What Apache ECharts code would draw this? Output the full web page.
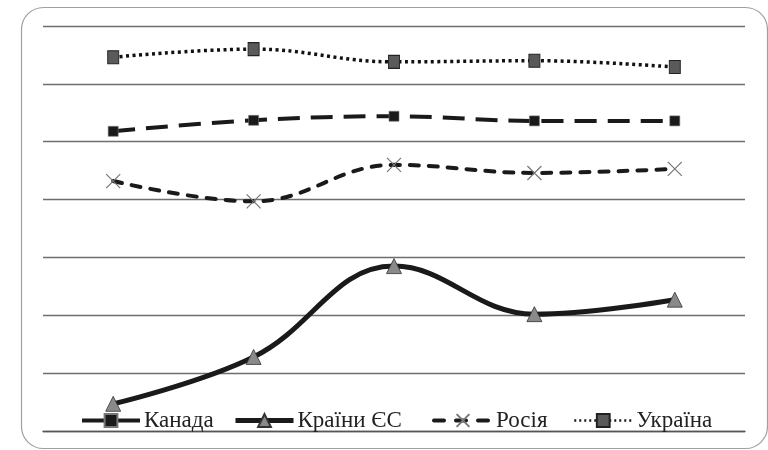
<!DOCTYPE html>
<html><head><meta charset="utf-8">
<script src="https://cdn.jsdelivr.net/npm/echarts@6/dist/echarts.min.js"></script>
<style>html,body{margin:0;padding:0;background:#fff}#c{width:768px;height:450px}</style>
</head><body><div id="c"></div>
<script>
var categories = ['1', '2', '3', '4', '5'];
var seriesNames = ['Канада', 'Країни ЄС', 'Росія', 'Україна'];
var canada = [5.18, 5.37, 5.44, 5.36, 5.36];
var eu = [0.47, 1.28, 2.85, 2.02, 2.27];
var russia = [4.32, 3.97, 4.60, 4.46, 4.53];
var ukraine = [6.46, 6.60, 6.38, 6.40, 6.29];

var chart = echarts.init(document.getElementById('c'));
var font = '"Liberation Serif", "DejaVu Serif", serif';
var legendLefts = [80, 233, 432, 573];
var legendLines = [
  { color: '#1a1a1a', width: 4, type: 'solid' },
  { color: '#1a1a1a', width: 5, type: 'solid' },
  { color: '#1a1a1a', width: 4, type: [10, 12] },
  { color: '#1a1a1a', width: 2.5, type: [2, 3] }
];
var legends = seriesNames.map(function (n, i) {
  return {
    bottom: 18, left: legendLefts[i], padding: 0,
    itemWidth: 58, itemHeight: 16,
    textStyle: { fontFamily: font, fontSize: 23, color: '#222', padding: [0, 0, 0, -1] },
    data: [{ name: n, lineStyle: legendLines[i] }]
  };
});
chart.setOption({
  animation: false,
  backgroundColor: '#fff',
  graphic: [{
    type: 'rect', left: 19, top: 5,
    shape: { width: 746, height: 441, r: 22 },
    style: { fill: 'none', stroke: '#a0a0a0', lineWidth: 1.2 },
    z: -1
  }],
  grid: { left: 43, right: 23, top: 26, bottom: 19 },
  xAxis: {
    type: 'category', data: categories, boundaryGap: true,
    axisLine: { show: true, lineStyle: { color: '#555', width: 1.3 } },
    axisTick: { show: false }, axisLabel: { show: false }
  },
  yAxis: {
    type: 'value', min: 0, max: 7, interval: 1,
    axisLine: { show: false }, axisTick: { show: false }, axisLabel: { show: false },
    splitLine: { lineStyle: { color: '#6e6e6e', width: 1.3 } }
  },
  legend: legends,
  series: [
    {
      name: seriesNames[0], type: 'line', data: canada, smooth: 0.4,
      symbol: 'rect', symbolSize: 10,
      lineStyle: { color: '#1a1a1a', width: 4, type: [22, 11] },
      itemStyle: { color: '#1a1a1a', borderColor: '#777', borderWidth: 0.6 }
    },
    {
      name: seriesNames[1], type: 'line', data: eu, smooth: 0.4,
      symbol: 'triangle', symbolSize: [15, 15],
      lineStyle: { color: '#1a1a1a', width: 5 },
      itemStyle: { color: '#8a8a8a', borderColor: '#333', borderWidth: 0.8 }
    },
    {
      name: seriesNames[2], type: 'line', data: russia, smooth: 0.4,
      symbol: 'path://M0,0 L10,10 M10,0 L0,10', symbolSize: 14,
      lineStyle: { color: '#1a1a1a', width: 4, type: [9, 10], cap: 'round' },
      itemStyle: { color: 'none', borderColor: '#777', borderWidth: 1.2 }
    },
    {
      name: seriesNames[3], type: 'line', data: ukraine, smooth: 0.4,
      symbol: 'rect', symbolSize: [11, 13],
      lineStyle: { color: '#111', width: 3.5, type: [3, 3.5] },
      itemStyle: { color: '#5a5a5a', borderColor: '#222', borderWidth: 1 }
    }
  ]
});
</script></body></html>
